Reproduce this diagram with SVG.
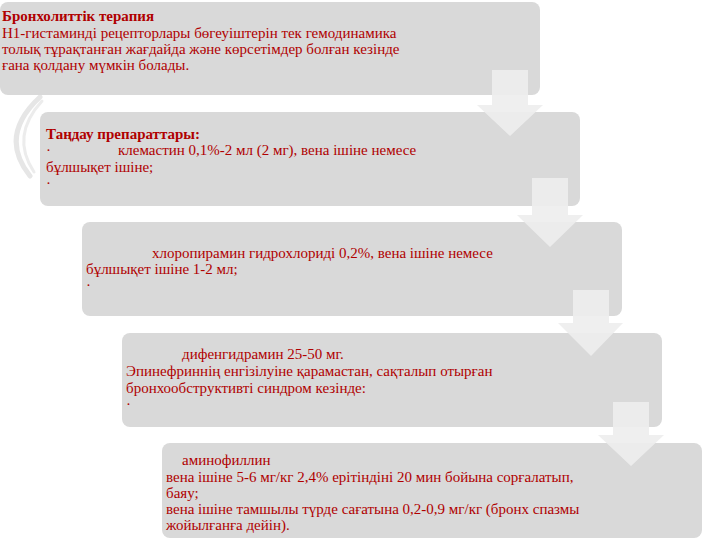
<svg xmlns="http://www.w3.org/2000/svg" width="720" height="540" viewBox="0 0 720 540">
<style>
.box{fill:#d9d9d9;}
.arr{fill:#eeeeee;fill-opacity:0.92;}
.deco{fill:none;stroke-linecap:round;}
text{font-family:"Liberation Serif","Times New Roman",serif;font-size:15px;fill:#b00000;}
.b{font-weight:bold;}
</style>
<rect width="720" height="540" fill="#ffffff"/>
<g id="deco">
<path class="deco" d="M40,97 Q-2,136 30,176" stroke="#e6e6e6" stroke-width="5"/>
<path class="deco" d="M42,101 Q10,136 34,172" stroke="#ececec" stroke-width="3"/>
</g>
<g id="node1">
<rect class="box" x="0" y="2" width="540" height="93" rx="8"/>
<text class="b" x="2" y="21">Бронхолиттік терапия</text>
<text x="2" y="38">Н1-гистаминді рецепторлары бөгеуіштерін тек гемодинамика</text>
<text x="2" y="54">толық тұрақтанған жағдайда және көрсетімдер болған кезінде</text>
<text x="2" y="70">ғана қолдану мүмкін болады.</text>
</g>
<g id="node2">
<rect class="box" x="40" y="112" width="540" height="94" rx="8"/>
<text class="b" x="46" y="139">Таңдау препараттары:</text>
<text x="46" y="155">·</text>
<text x="118" y="155">клемастин 0,1%-2 мл (2 мг), вена ішіне немесе</text>
<text x="46" y="172">бұлшықет ішіне;</text>
<text x="46" y="188">·</text>
</g>
<g id="node3">
<rect class="box" x="82" y="222" width="540" height="94" rx="8"/>
<text x="152" y="258">хлоропирамин гидрохлориді 0,2%, вена ішіне немесе</text>
<text x="86" y="274">бұлшықет ішіне 1-2 мл;</text>
<text x="86" y="290">·</text>
</g>
<g id="node4">
<rect class="box" x="122" y="333" width="540" height="94" rx="8"/>
<text x="182" y="359">дифенгидрамин 25-50 мг.</text>
<text x="126" y="376">Эпинефриннің енгізілуіне қарамастан, сақталып отырған</text>
<text x="126" y="393">бронхообструктивті синдром кезінде:</text>
<text x="126" y="409">·</text>
</g>
<g id="node5">
<rect class="box" x="162" y="443" width="540" height="95" rx="8"/>
<text x="182" y="465">аминофиллин</text>
<text x="166" y="482">вена ішіне 5-6 мг/кг 2,4% ерітіндіні 20 мин бойына сорғалатып,</text>
<text x="166" y="498">баяу;</text>
<text x="166" y="514">вена ішіне тамшылы түрде сағатына 0,2-0,9 мг/кг (бронх спазмы</text>
<text x="166" y="530">жойылғанға дейін).</text>
</g>
<g id="connectors">
<path class="arr" d="M492,70 H528 V105 H543 L510,136 L477,105 H492 Z"/>
<path class="arr" d="M532,178 H568 V215 H583 L550,247 L517,215 H532 Z"/>
<path class="arr" d="M573,290 H609 V323 H623 L591,356 L558,323 H573 Z"/>
<path class="arr" d="M613,402 H649 V435 H664 L631,466 L598,435 H613 Z"/>
</g>
</svg>
